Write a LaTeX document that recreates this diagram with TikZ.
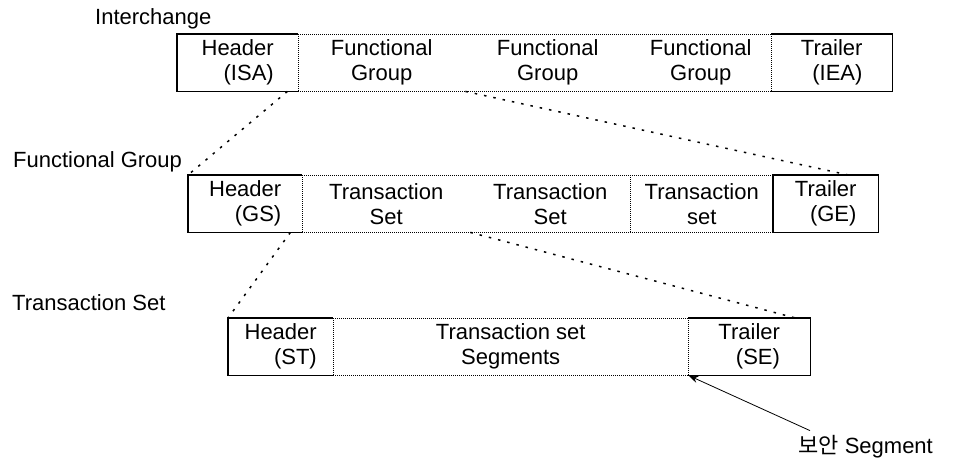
\documentclass[tikz,border=0pt]{standalone}
\usepackage{fontspec}
\setmainfont{Liberation Sans}
\newfontfamily\krfont{Noto Sans CJK KR}
\usetikzlibrary{arrows.meta}
\tikzset{
  cell/.style={inner sep=0pt, minimum height=57pt, anchor=north west, align=center, font=\fontsize{22}{25}\selectfont},
  endcell/.style={cell, align=right},
  title/.style={inner sep=0pt, anchor=base west, font=\fontsize{22}{25}\selectfont},
  frame/.style={line width=1.4pt},
  dots/.style={line width=1pt, densely dotted},
  zoomline/.style={line width=1.5pt, dash pattern=on 2.5pt off 7pt},
}
\begin{document}
\begin{tikzpicture}[x=1pt, y=-1pt, >={Stealth[length=10pt,width=7pt]}]
  \useasboundingbox (0,0) rectangle (953,461);

  % interchange
  \node[title] (ichg) at (95,24) {Interchange};
  \node[endcell, minimum width=121pt] (isa) at (177,34) {Header\\(ISA)};
  \node[cell, minimum width=167pt] (fg1) at (298,34) {Functional\\Group};
  \node[cell, minimum width=165pt] (fg2) at (465,34) {Functional\\Group};
  \node[cell, minimum width=141pt] (fg3) at (630,34) {Functional\\Group};
  \node[endcell, minimum width=121pt] (iea) at (771,34) {Trailer\\(IEA)};
  \draw[frame] (isa.north east) -- (isa.north west) -- (isa.south west) -- (isa.south east);
  \draw[dots] (isa.north east) -- (fg3.north east) (isa.south east) -- (fg3.south east);
  \draw[dots] (isa.north east) -- (isa.south east) (iea.north west) -- (iea.south west);
  \draw[frame] (iea.north west) -- (iea.north east) -- (iea.south east) -- (iea.south west);

  % functional group
  \node[title] (fgrp) at (13,167) {Functional Group};
  \node[endcell, minimum width=114pt] (gs) at (188,175) {Header\\(GS)};
  \node[cell, minimum width=168pt] (ts1) at (302,175) {Transaction\\Set};
  \node[cell, minimum width=160pt] (ts2) at (470,175) {Transaction\\Set};
  \node[cell, minimum width=143pt] (ts3) at (630,175) {Transaction\\set};
  \node[endcell, minimum width=105pt] (ge) at (773,175) {Trailer\\(GE)};
  \draw[frame] (gs.north east) -- (gs.north west) -- (gs.south west) -- (gs.south east);
  \draw[dots] (gs.north east) -- (ts3.north east) (gs.south east) -- (ts3.south east);
  \draw[dots] (gs.north east) -- (gs.south east) (ts3.north west) -- (ts3.south west);
  \draw[frame] (ge.north west) rectangle (ge.south east);

  % transaction set
  \node[title] (tset) at (12,310) {Transaction Set};
  \node[endcell, minimum width=105pt] (st) at (228,318) {Header\\(ST)};
  \node[cell, minimum width=355pt] (seg) at (333,318) {Transaction set\\Segments};
  \node[endcell, minimum width=122pt] (se) at (688,318) {Trailer\\(SE)};
  \draw[frame] (st.north east) -- (st.north west) -- (st.south west) -- (st.south east);
  \draw[dots] (st.north east) -- (seg.north east) (st.south east) -- (seg.south east);
  \draw[dots] (st.north east) -- (st.south east) (se.north west) -- (se.south west);
  \draw[frame] (se.north west) -- (se.north east) -- (se.south east) -- (se.south west);

  % expansion lines
  \draw[zoomline] ([xshift=-11pt]isa.south east) -- (gs.north west);
  \draw[zoomline] (fg1.south east) -- ([xshift=-30pt]ge.north east);
  \draw[zoomline] ([xshift=-12pt]gs.south east) -- (st.north west);
  \draw[zoomline] (ts1.south east) -- ([xshift=-15pt]se.north east);

  \node[title] (sec) at (798,453) {{\krfont 보안} Segment};
  \draw[->, line width=0.8pt] ([shift={(12pt,4pt)}]sec.north west) -- (seg.south east);
\end{tikzpicture}
\end{document}
